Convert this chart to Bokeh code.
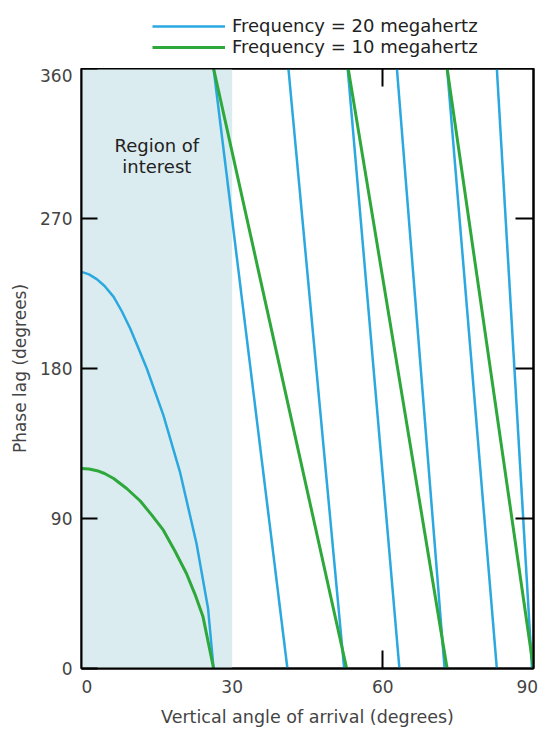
from bokeh.plotting import figure
from bokeh.layouts import column
from bokeh.models import (Range1d, LinearAxis, FixedTicker, BoxAnnotation, Legend, LegendItem)
from bokeh.core.properties import value
from bokeh.embed import file_html
from bokeh.resources import INLINE

# ---- data ----
x_ticks = [0, 30, 60, 90]
y_ticks = [0, 90, 180, 270, 360]
x_tick_labels = {0: "\u00a0\u00a00", 30: "30", 60: "60", 90: "90\u00a0"}
x_inner_ticks = [60]
y_inner_ticks_right = [90, 180, 270]
region_start, region_end = 0, 30
region_label_x = [15, 15]
region_label_y = [314, 301]
region_label_text = ["Region of", "interest"]

phase_top = 360
phase_bottom = 0

# 20 MHz: smooth part inside the region of interest
blue_curve_angle = [0, 1.5, 3.1, 4.6, 6.4, 8.0, 9.7, 11.3, 13.0, 16.3, 19.6, 22.9, 25.2, 26.3]
blue_curve_phase = [238, 236.5, 233.5, 229.5, 223, 214.5, 204, 192.5, 180, 152, 118, 75, 36, 0]
# 20 MHz: wrapped segments (angle where phase = 360 -> angle where phase = 0)
blue_wrap_top = [26.3, 41.2, 53.0, 62.8, 72.8, 82.7]
blue_wrap_bottom = [41.0, 52.3, 63.3, 72.3, 82.7, 89.7]

# 10 MHz
green_curve_angle = [0, 1.5, 3.1, 4.6, 6.4, 9.0, 11.7, 14.0, 16.3, 18.6, 20.9, 22.6, 24.2, 26.3]
green_curve_phase = [120, 119.7, 118.7, 117, 114, 108, 100.5, 92, 83, 70.5, 57, 44.5, 31, 0]
green_wrap_top = [26.3, 53.1, 72.8]
green_wrap_bottom = [52.8, 72.8, 90]

series_labels = ["Frequency = 20 megahertz", "Frequency = 10 megahertz"]
blue = "#2aa8df"
green = "#2ea83a"
shade = "#daecef"
FONT = "DejaVu Sans"
BLUE_W = 2.5
GREEN_W = 3

# ---- legend strip above the chart (its view range shows none of the data) ----
lg = figure(width=543, height=68, x_range=Range1d(0, 1), y_range=Range1d(-10, -9),
            output_backend="svg", toolbar_location=None,
            x_axis_type=None, y_axis_type=None, min_border=0)
lg.grid.visible = False
lg.outline_line_color = None
lg.background_fill_color = "white"
lg.border_fill_color = "white"
kb = lg.line(blue_curve_angle, blue_curve_phase, line_color=blue, line_width=BLUE_W)
kg = lg.line(green_curve_angle, green_curve_phase, line_color=green, line_width=GREEN_W)
legend = Legend(items=[LegendItem(label=series_labels[0], renderers=[kb]),
                       LegendItem(label=series_labels[1], renderers=[kg])],
                location=(71, 11), orientation="vertical")
legend.padding = 0
legend.margin = 0
legend.spacing = 0
legend.glyph_width = 73
legend.glyph_height = 20
legend.label_height = 20
legend.label_standoff = 7
legend.label_text_font = FONT
legend.label_text_font_size = "18px"
legend.label_text_color = "#222222"
legend.border_line_color = None
legend.background_fill_alpha = 0
lg.add_layout(legend, "center")

# ---- main chart ----
p = figure(width=543, height=661, x_range=Range1d(0, 90), y_range=Range1d(0, 360),
           output_backend="svg", toolbar_location=None,
           x_axis_type=None, y_axis_type=None,
           min_border_left=81, min_border_right=10, min_border_top=0, min_border_bottom=57)
p.grid.visible = False
p.outline_line_color = "black"
p.outline_line_width = 2
p.background_fill_color = "white"
p.border_fill_color = "white"

p.add_layout(BoxAnnotation(left=region_start, right=region_end, fill_color=shade,
                           fill_alpha=1, line_color=None, level="underlay"))

left = LinearAxis(ticker=FixedTicker(ticks=y_ticks), axis_label="Phase lag (degrees)")
left.major_tick_in = 16
left.major_tick_out = 0
left.minor_tick_line_color = None
left.major_tick_line_width = 2
left.axis_line_width = 2
left.major_label_text_font = FONT
left.major_label_text_font_size = "17px"
left.major_label_standoff = 9
left.axis_label_text_font = FONT
left.axis_label_text_font_size = "17px"
left.axis_label_text_font_style = "normal"
left.axis_label_standoff = 7
p.add_layout(left, "left")

bottom = LinearAxis(ticker=FixedTicker(ticks=x_ticks, minor_ticks=x_inner_ticks),
                    axis_label="Vertical angle of arrival (degrees)")
bottom.major_label_overrides = x_tick_labels
bottom.major_tick_line_color = None
bottom.major_tick_out = 0
bottom.major_tick_in = 0
bottom.minor_tick_in = 18
bottom.minor_tick_out = 0
bottom.minor_tick_line_width = 2
bottom.minor_tick_line_color = "black"
bottom.axis_line_width = 2
bottom.major_label_text_font = FONT
bottom.major_label_text_font_size = "17px"
bottom.major_label_standoff = 8
bottom.axis_label_text_font = FONT
bottom.axis_label_text_font_size = "17.5px"
bottom.axis_label_text_font_style = "normal"
bottom.axis_label_standoff = 7
p.add_layout(bottom, "below")

right = LinearAxis(ticker=FixedTicker(ticks=[], minor_ticks=y_inner_ticks_right))
right.major_label_standoff = 0
right.major_tick_line_color = None
right.minor_tick_in = 18
right.minor_tick_out = 0
right.minor_tick_line_width = 2
right.minor_tick_line_color = "black"
right.axis_line_width = 2
p.add_layout(right, "right")

top = LinearAxis(ticker=FixedTicker(ticks=[], minor_ticks=x_inner_ticks))
top.major_label_standoff = 0
top.major_tick_line_color = None
top.minor_tick_in = 18
top.minor_tick_out = 0
top.minor_tick_line_width = 2
top.minor_tick_line_color = "black"
top.axis_line_width = 2
p.add_layout(top, "above")

p.line(blue_curve_angle, blue_curve_phase, line_color=blue, line_width=BLUE_W)
p.segment(x0=blue_wrap_top, y0=[phase_top] * len(blue_wrap_top),
          x1=blue_wrap_bottom, y1=[phase_bottom] * len(blue_wrap_bottom),
          line_color=blue, line_width=BLUE_W)
p.line(green_curve_angle, green_curve_phase, line_color=green, line_width=GREEN_W)
p.segment(x0=green_wrap_top, y0=[phase_top] * len(green_wrap_top),
          x1=green_wrap_bottom, y1=[phase_bottom] * len(green_wrap_bottom),
          line_color=green, line_width=GREEN_W)

p.text(x=region_label_x, y=region_label_y, text=region_label_text,
       text_font=value(FONT), text_font_size="18px", text_align="center",
       text_baseline="middle", text_color="#222222")

layout = column(lg, p, spacing=0)
open("out.html", "w").write(file_html(layout, INLINE))
